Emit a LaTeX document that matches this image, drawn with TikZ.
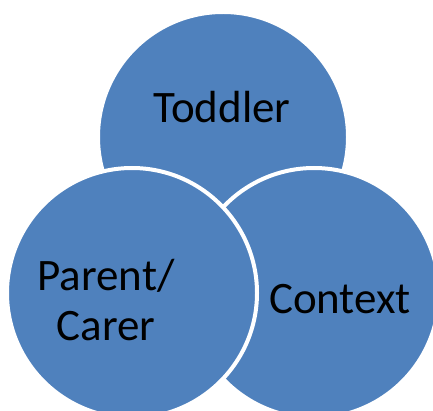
\documentclass[tikz,border=0pt]{standalone}
\usepackage{fontspec}
\setmainfont{Carlito}
\usetikzlibrary{positioning}
\definecolor{circblue}{HTML}{4F81BD}

\begin{document}
\begin{tikzpicture}[x=1pt, y=1pt,
            ring/.style={circle, draw=white, line width=4pt, fill=circblue, minimum size=250pt, inner sep=0pt}, % blue disc with white rim
            word/.style={align=center, text=black, inner sep=0pt, font=\fontsize{45}{50}\selectfont} % black label
            ]
        \useasboundingbox (0,0) rectangle (433,410);

        % discs, drawn back to front
        \node[ring] (toddler) at (223,273) {};
        \node[ring] (context) at (314,117) {};
        \node[ring] (parent) at (132,117) {};

        % labels
        \node[word, anchor=base] (toddlertext) at (222,287) {Toddler};
        \node[word, anchor=base] (contexttext) at (340,97) {Context};
        \node[word] (parenttext) at (106,110) {Parent/\\Carer};
    \end{tikzpicture}
\end{document}
